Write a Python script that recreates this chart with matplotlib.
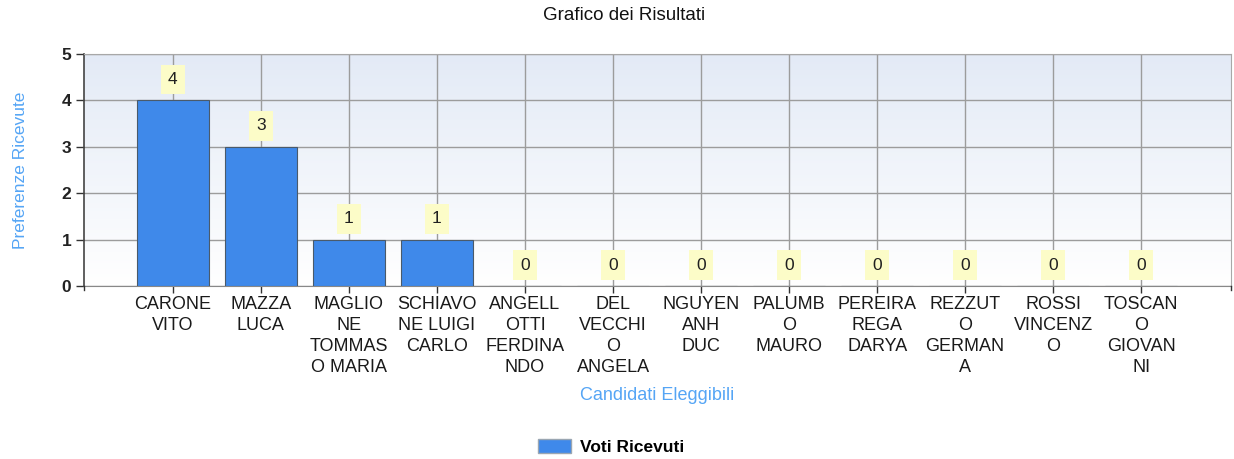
import matplotlib
matplotlib.use("Agg")
import matplotlib.pyplot as plt
import numpy as np
from matplotlib.patches import Patch

plt.rcParams['font.family'] = ['Liberation Sans', 'DejaVu Sans']

candidates = ["CARONE VITO", "MAZZA LUCA", "MAGLIONE TOMMASO MARIA",
              "SCHIAVONE LUIGI CARLO", "ANGELLOTTI FERDINANDO", "DEL VECCHIO ANGELA",
              "NGUYEN ANH DUC", "PALUMBO MAURO", "PEREIRA REGA DARYA",
              "REZZUTO GERMANA", "ROSSI VINCENZO", "TOSCANO GIOVANNI"]
votes = [4, 3, 1, 1, 0, 0, 0, 0, 0, 0, 0, 0]
tick_labels = ["CARONE\nVITO", "MAZZA\nLUCA", "MAGLIO\nNE\nTOMMAS\nO MARIA",
               "SCHIAVO\nNE LUIGI\nCARLO", "ANGELL\nOTTI\nFERDINA\nNDO",
               "DEL\nVECCHI\nO\nANGELA", "NGUYEN\nANH\nDUC", "PALUMB\nO\nMAURO",
               "PEREIRA\nREGA\nDARYA", "REZZUT\nO\nGERMAN\nA", "ROSSI\nVINCENZ\nO",
               "TOSCAN\nO\nGIOVAN\nNI"]
y_ticks = [0, 1, 2, 3, 4, 5]

W, H = 1234, 459
fig = plt.figure(figsize=(W / 100, H / 100), dpi=100)
ax = fig.add_axes([84 / W, 1 - 286 / H, (1231 - 84) / W, (286 - 54) / H])

x = np.arange(len(candidates))
ax.set_xlim(-1.01, len(candidates) + 0.02)
ax.set_ylim(0, 5)

# gradient background
grad = np.linspace(0, 1, 256).reshape(-1, 1)
top = np.array([0.890, 0.918, 0.965])
bot = np.array([1.0, 1.0, 1.0])
img = top[None, None, :] * (1 - grad[:, :, None]) + bot[None, None, :] * grad[:, :, None]
ax.imshow(img, extent=[0, 1, 0, 1], transform=ax.transAxes, aspect='auto', zorder=0)

ax.grid(True, color='#9c9c9c', linewidth=1.0, zorder=1)
ax.set_axisbelow(True)

bars = ax.bar(x, votes, width=0.82, color='#3f89ea', edgecolor='#4a5a6a',
              linewidth=0.8, zorder=3, label='Voti Ricevuti')

for xi, v in zip(x, votes):
    ax.annotate(str(v), (xi, v), xytext=(0, 15), textcoords='offset points',
                ha='center', va='center', fontsize=12.5, color='#202020', zorder=5,
                bbox=dict(boxstyle='square,pad=0.42', fc='#fcfcc8', ec='none'))

ax.set_xticks(x)
ax.set_xticklabels(tick_labels, fontsize=13, color='#1a1a1a', linespacing=1.32)
ax.set_yticks(y_ticks)
ax.set_yticklabels([str(t) for t in y_ticks], fontsize=12.5, fontweight='bold', color='#222222')

ax.tick_params(axis='x', length=5, width=1, color='#333333', pad=2)
ax.tick_params(axis='y', length=6, width=1, color='#333333', pad=3)

for side in ['top', 'right']:
    ax.spines[side].set_color('#a8a8a8')
ax.spines['left'].set_color('#444444')
ax.spines['left'].set_linewidth(1.2)
ax.spines['bottom'].set_color('#888888')

# end ticks on x axis
for xe in ax.get_xlim():
    ax.plot([xe, xe], [0, -0.09], color='#333333', lw=1, clip_on=False, zorder=6)

ax.set_ylabel('Preferenze Ricevute', color='#55a5f5', fontsize=12.5, labelpad=24)
ax.set_xlabel('Candidati Eleggibili', color='#55a5f5', fontsize=13, labelpad=8)

fig.text(624 / W, 1 - 15 / H, 'Grafico dei Risultati',
         ha='center', va='center', fontsize=13.5, color='#111111')

fig.legend(handles=[Patch(facecolor='#3f89ea', edgecolor='#9aa6b2', label='Voti Ricevuti')],
           loc='center', bbox_to_anchor=(611 / W, 1 - 447 / H), frameon=False,
           prop={'weight': 'bold', 'size': 12.5}, handlelength=1.9, handleheight=0.9,
           handletextpad=0.5)

fig.savefig('out.png', dpi=100, facecolor='white')
